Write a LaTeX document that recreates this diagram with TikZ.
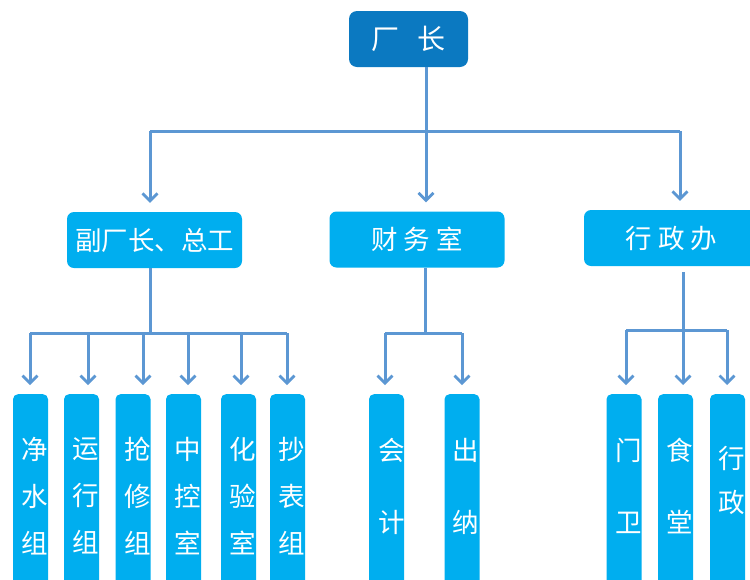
\documentclass[tikz,border=0pt]{standalone}
\usepackage{fontspec}
\setmainfont{Noto Sans CJK SC}
\usetikzlibrary{arrows.meta}
\definecolor{headblue}{HTML}{0B79C1}
\definecolor{boxblue}{HTML}{00AEEF}
\definecolor{linkblue}{HTML}{5C97D3}
\tikzset{
  headbox/.style={fill=headblue, rounded corners=8pt, inner sep=0pt, text=white},
  deptbox/.style={fill=boxblue, rounded corners=7pt, inner sep=0pt, text=white,
    minimum height=56pt, minimum width=175pt, font=\fontsize{26.5}{26.5}\selectfont},
  teambox/.style={fill=boxblue, rounded corners=5pt, inner sep=0pt,
    minimum width=35pt, minimum height=210pt, anchor=north},
  teamtext/.style={text=white, align=center, inner sep=0pt,
    font=\fontsize{26.5}{47}\selectfont},
  conn/.style={draw=linkblue, line width=3pt},
  arr/.style={conn, -{Straight Barb[length=7.5pt, width=15pt, line width=2.8pt]}, shorten >=9pt},
}
\begin{document}
\begin{tikzpicture}[x=1pt, y=-1pt]
\useasboundingbox (0,0) rectangle (750,579);
\clip (0,0) rectangle (750,579);

% director
\node[headbox, minimum width=119pt, minimum height=56pt,
      font=\fontsize{28}{28}\selectfont] (head) at (408.5,39) {厂\hspace{19pt}长};

% departments
\node[deptbox] (vice)  at (154.5,240) {副厂长、总工};
\node[deptbox] (fin)   at (417,239.5) {财\hspace{6pt}务\hspace{6pt}室};
\node[deptbox] (admin) at (671.5,238) {行\hspace{6pt}政\hspace{6pt}办};

% director to departments
\coordinate (h0) at (426,131);
\coordinate (h1) at (150,131);
\coordinate (h2) at (426,131);
\coordinate (h3) at (680,131);
\draw[conn] (head.south -| h0) -- (h0);
\draw[conn] (h1) -- (h3);
\draw[arr] (h1) -- (h1 |- vice.north);
\draw[arr] (h2) -- (h2 |- fin.north);
\draw[arr] (h3) -- (h3 |- admin.north);

% teams under the deputy director
\node[teambox] (w1) at (30.5,394) {};
\node[teambox] (w2) at (81.5,394) {};
\node[teambox] (w3) at (133,394) {};
\node[teambox] (w4) at (183.5,394) {};
\node[teambox] (w5) at (238.5,394) {};
\node[teambox] (w6) at (287.5,394) {};
\node[teamtext] (w1t) at (35,496) {净\\水\\组};
\node[teamtext] (w2t) at (86,496) {运\\行\\组};
\node[teamtext] (w3t) at (138,496) {抢\\修\\组};
\node[teamtext] (w4t) at (188,496) {中\\控\\室};
\node[teamtext] (w5t) at (243,496) {化\\验\\室};
\node[teamtext] (w6t) at (292,496) {抄\\表\\组};

\coordinate (v0) at (150,333);
\coordinate (v1) at (30,333);
\coordinate (v2) at (88,333);
\coordinate (v3) at (143,333);
\coordinate (v4) at (188,333);
\coordinate (v5) at (241,333);
\coordinate (v6) at (287,333);
\draw[conn] (vice.south -| v0) -- (v0);
\draw[conn] (v1) -- (v6);
\draw[arr] (v1) -- (v1 |- w1.north);
\draw[arr] (v2) -- (v2 |- w2.north);
\draw[arr] (v3) -- (v3 |- w3.north);
\draw[arr] (v4) -- (v4 |- w4.north);
\draw[arr] (v5) -- (v5 |- w5.north);
\draw[arr] (v6) -- (v6 |- w6.north);

% finance teams
\node[teambox] (f1) at (386.5,394) {};
\node[teambox] (f2) at (462,394) {};
\node[teamtext, font=\fontsize{26.5}{72}\selectfont] (f1t) at (392,486) {会\\计};
\node[teamtext, font=\fontsize{26.5}{72}\selectfont] (f2t) at (466,486) {出\\纳};

\coordinate (c0) at (425,333);
\coordinate (c1) at (385,333);
\coordinate (c2) at (462,333);
\draw[conn] (fin.south -| c0) -- (c0);
\draw[conn] (c1) -- (c2);
\draw[arr] (c1) -- (c1 |- f1.north);
\draw[arr] (c2) -- (c2 |- f2.north);

% administration teams
\node[teambox] (a1b) at (624,394) {};
\node[teambox] (a2b) at (675.5,394) {};
\node[teambox] (a3b) at (727.5,394) {};
\node[teamtext, font=\fontsize{26.5}{72}\selectfont] (a1t) at (629,486) {门\\卫};
\node[teamtext, font=\fontsize{26.5}{72}\selectfont] (a2t) at (680,486) {食\\堂};
\node[teamtext, font=\fontsize{26.5}{44}\selectfont] (a3t) at (732,480) {行\\政};

\coordinate (a0) at (683,330);
\coordinate (a1) at (626,330);
\coordinate (a2) at (683,330);
\coordinate (a3) at (727,330);
\draw[conn, shorten <=6pt] (admin.south -| a0) -- (a0);
\draw[conn] (a1) -- (a3);
\draw[arr] (a1) -- (a1 |- a1b.north);
\draw[arr] (a2) -- (a2 |- a2b.north);
\draw[arr] (a3) -- (a3 |- a3b.north);
\end{tikzpicture}
\end{document}
